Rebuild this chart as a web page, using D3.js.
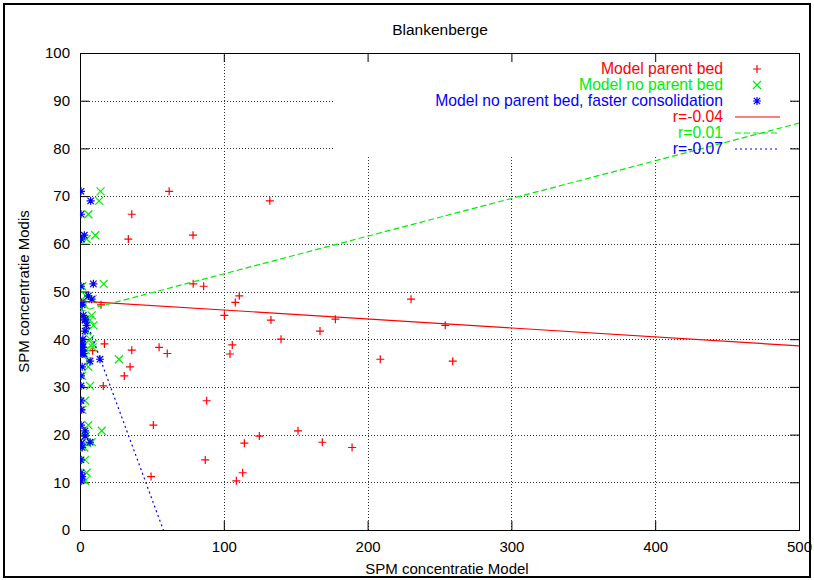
<!DOCTYPE html>
<html>
<head>
<meta charset="utf-8">
<script src="https://cdn.jsdelivr.net/npm/d3@7"></script>
<style>
  body { margin: 0; background: #fff; }
  text { font-family: "Liberation Sans", Arial, Helvetica, sans-serif; }
</style>
</head>
<body>
<svg id="chart" width="814" height="580"></svg>
<script>
// Observed SPM (Modis) per station date, shared by all three model runs
const modis = [71, 69, 66.2, 61.8, 61.0, 51.6, 51.1, 49.1, 48.4, 47.7, 47.2, 45, 44.2, 44, 42.9,
  41.7, 40, 39, 38.8, 38.3, 37.7, 37.6, 37, 36.9, 35.8, 35.4, 34.2, 32.3, 30.2, 27.1,
  25.2, 22, 20.8, 19.7, 18.4, 18.2, 17.3, 14.7, 12.0, 11.2, 10.3];

// Modelled SPM for the same dates
const modelParentBed = [62, 132, 36, 78.6, 33.6, 78.7, 86, 110.8, 230.2, 108, 14.6, 100.4, 177.6, 132.8, 254,
  166.9, 139.8, 17, 105.9, 55, 36, 8.8, 60.7, 104.3, 208.8, 259.2, 34.8, 30.8, 16.2, 88.1,
  1.2, 51, 151.6, 124.7, 168.5, 114.3, 189.2, 87.1, 113.1, 49.4, 108.7];
const modelNoParentBed = [14.3, 13.3, 5.8, 10.6, 4.6, 16.5, 1.5, 4, 8.8, 2, 3, 8.1, 4, 7, 9.3,
  5, 7, 8.8, 3, 8.8, 4, 2, 3, 2, 27.1, 5.8, 5.8, 1.5, 7, 3.5,
  1.5, 5.8, 15.1, 4, 8.1, 5, 3, 3.5, 4.6, 2, 3.5];
const modelFasterConsolidation = [0.7, 7.4, 0.7, 3, 1, 9.3, 0.7, 5.8, 8.1, 1, 1.5, 2.3, 3.5, 3.5, 4.6,
  3.5, 2, 1.5, 1, 2, 1, 0.7, 2.5, 1.5, 13.9, 7, 1.5, 0.7, 0.7, 0.7,
  0.7, 0.7, 3.5, 3.5, 7, 1, 1.5, 0.7, 0.7, 1.5, 0.7];

const seriesNames = ["Model parent bed", "Model no parent bed", "Model no parent bed, faster consolidation"];
const seriesColors = ["#ff0000", "#00ee00", "#0000ff"];
const seriesSymbols = ["plus", "cross", "star"];

// Linear fits per model run
const fitLabels = ["r=-0.04", "r=0.01", "r=-0.07"];
const fitIntercepts = [48.0, 45.8, 47.4];
const fitSlopes = [-0.0188, 0.079, -0.818];
const fitDash = [null, "6,3", "2,3"];

const xTicks = [0, 100, 200, 300, 400, 500];
const yTicks = [0, 10, 20, 30, 40, 50, 60, 70, 80, 90, 100];

const W = 814, H = 580;
const margin = { left: 80, top: 53, right: 15, bottom: 50 };
const x = d3.scaleLinear().domain([0, 500]).range([margin.left, W - margin.right]);
const y = d3.scaleLinear().domain([0, 100]).range([H - margin.bottom, margin.top]);

const svg = d3.select("#chart");
svg.append("rect").attr("width", W).attr("height", H).attr("fill", "#fff");

// outer frame
svg.append("rect").attr("x", 4).attr("y", 4).attr("width", W - 8).attr("height", H - 7)
  .attr("fill", "none").attr("stroke", "#000").attr("stroke-width", 2);

svg.append("defs").append("clipPath").attr("id", "plotClip")
  .append("rect").attr("x", x(0)).attr("y", y(100)).attr("width", x(500) - x(0)).attr("height", y(0) - y(100));

// grid
const grid = svg.append("g").attr("stroke", "#333").attr("stroke-width", 1).attr("stroke-dasharray", "1,2");
grid.selectAll("line.gx").data(xTicks.slice(1, -1)).join("line")
  .attr("x1", d => Math.round(x(d)) + 0.5).attr("x2", d => Math.round(x(d)) + 0.5)
  .attr("y1", y(0)).attr("y2", y(100));
grid.selectAll("line.gy").data(yTicks.slice(1, -1)).join("line")
  .attr("y1", d => Math.round(y(d)) + 0.5).attr("y2", d => Math.round(y(d)) + 0.5)
  .attr("x1", x(0)).attr("x2", x(500));

// key background hides the grid behind the legend
svg.append("rect").attr("x", 334).attr("y", y(100) + 1).attr("width", 455).attr("height", 103).attr("fill", "#fff");

// axes with inward ticks, mirrored on top and right
const axB = svg.append("g").attr("transform", `translate(0,${y(0)})`)
  .call(d3.axisBottom(x).tickValues(xTicks).tickSize(-9).tickPadding(11).tickFormat(d3.format("d")));
const axT = svg.append("g").attr("transform", `translate(0,${y(100)})`)
  .call(d3.axisTop(x).tickValues(xTicks).tickSize(-9).tickFormat(""));
const axL = svg.append("g").attr("transform", `translate(${x(0)},0)`)
  .call(d3.axisLeft(y).tickValues(yTicks).tickSize(-9).tickPadding(10).tickFormat(d3.format("d")));
const axR = svg.append("g").attr("transform", `translate(${x(500)},0)`)
  .call(d3.axisRight(y).tickValues(yTicks).tickSize(-9).tickFormat(""));
[axB, axT, axL, axR].forEach(a => {
  a.select(".domain").remove();
  a.selectAll("line").attr("stroke", "#000");
  a.selectAll("text").attr("font-size", 15).attr("fill", "#000")
    .attr("font-family", '"Liberation Sans", Arial, sans-serif');
});
svg.append("rect").attr("x", x(0) + 0.5).attr("y", y(100) + 0.5)
  .attr("width", x(500) - x(0)).attr("height", y(0) - y(100))
  .attr("fill", "none").attr("stroke", "#000").attr("stroke-width", 1);

// titles
svg.append("text").attr("x", 440).attr("y", 35).attr("text-anchor", "middle")
  .attr("font-size", 15.5).text("Blankenberge");
svg.append("text").attr("x", 447).attr("y", 574).attr("text-anchor", "middle")
  .attr("font-size", 15).text("SPM concentratie Model");
svg.append("text").attr("transform", `translate(29,${(y(0) + y(100)) / 2}) rotate(-90)`)
  .attr("text-anchor", "middle").attr("font-size", 15).text("SPM concentratie Modis");

// marker shapes
function symbolPath(kind, r) {
  const p = `M${-r},0H${r}M0,${-r}V${r}`;
  const c = `M${-r},${-r}L${r},${r}M${-r},${r}L${r},${-r}`;
  if (kind === "plus") return p;
  if (kind === "cross") return c;
  const q = r * 0.8;
  return `M${-r},0H${r}M0,${-r}V${r}M${-q},${-q}L${q},${q}M${-q},${q}L${q},${-q}`;
}

const plot = svg.append("g").attr("clip-path", "url(#plotClip)");
const modelRuns = [modelParentBed, modelNoParentBed, modelFasterConsolidation];
modelRuns.forEach((xs, i) => {
  plot.append("g").selectAll("path").data(xs.map((v, k) => [v, modis[k]])).join("path")
    .attr("transform", d => `translate(${x(d[0])},${y(d[1])})`)
    .attr("d", symbolPath(seriesSymbols[i], 4))
    .attr("fill", "none").attr("stroke", seriesColors[i]).attr("stroke-width", 1.2);
});

// fit lines
fitIntercepts.forEach((b, i) => {
  const line = plot.append("line")
    .attr("x1", x(0)).attr("y1", y(b))
    .attr("x2", x(500)).attr("y2", y(b + fitSlopes[i] * 500))
    .attr("stroke", seriesColors[i]).attr("stroke-width", 1.2);
  if (fitDash[i]) line.attr("stroke-dasharray", fitDash[i]);
});

// legend
const legend = svg.append("g");
const rowY = [69, 85, 101, 117, 133, 149];
seriesNames.forEach((name, i) => {
  legend.append("text").attr("x", 723).attr("y", rowY[i]).attr("dy", "0.35em")
    .attr("text-anchor", "end").attr("font-size", 15.7).attr("fill", seriesColors[i]).text(name);
  legend.append("path").attr("transform", `translate(757,${rowY[i]})`)
    .attr("d", symbolPath(seriesSymbols[i], 4))
    .attr("fill", "none").attr("stroke", seriesColors[i]).attr("stroke-width", 1.2);
});
fitLabels.forEach((lab, i) => {
  const ry = rowY[i + 3];
  legend.append("text").attr("x", 723).attr("y", ry).attr("dy", "0.35em")
    .attr("text-anchor", "end").attr("font-size", 15.7).attr("fill", seriesColors[i]).text(lab);
  const l = legend.append("line").attr("x1", 735).attr("x2", 780).attr("y1", ry).attr("y2", ry)
    .attr("stroke", seriesColors[i]).attr("stroke-width", 1.2);
  if (fitDash[i]) l.attr("stroke-dasharray", fitDash[i]);
});
</script>
</body>
</html>
